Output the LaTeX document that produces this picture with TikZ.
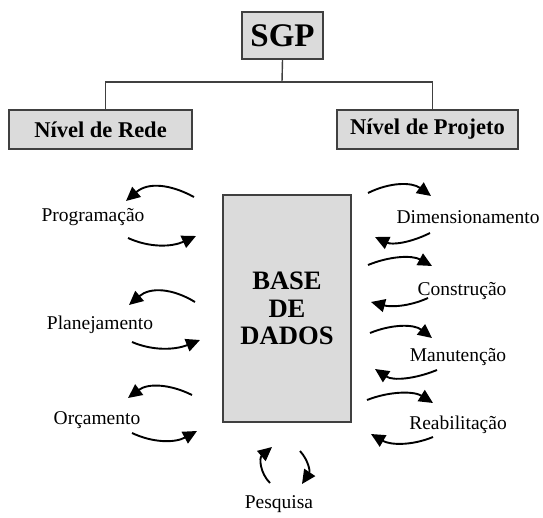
\documentclass[tikz,border=0pt]{standalone}
\usepackage{fontspec}
\setmainfont{Liberation Serif}
\usetikzlibrary{arrows.meta}
\begin{document}
\begin{tikzpicture}[x=1pt,y=-1pt,
  gbox/.style={draw=black!75,line width=1.3pt,fill=black!14,inner sep=0pt,anchor=center},
  lbl/.style={font=\fontsize{19.5}{22}\selectfont,inner sep=0pt,anchor=center},
  arr/.style={line width=1.9pt,-{Triangle[length=14pt,width=13pt]}},
  tree/.style={draw=black!75,line width=1.4pt}]
\useasboundingbox (0,0) rectangle (543,518);
% tree
\node[gbox,minimum width=81pt,minimum height=47pt,font=\fontsize{33}{34}\selectfont\bfseries] (sgp) at (282.5,35.5) {SGP};
\node[gbox,minimum width=183pt,minimum height=39pt,font=\fontsize{22.5}{24}\selectfont\bfseries] (rede) at (100.5,129.5) {Nível de Rede};
\node[gbox,minimum width=181pt,minimum height=39pt,font=\fontsize{22.5}{24}\selectfont\bfseries] (proj) at (427.5,129.5) {Nível de Projeto};
\coordinate (j) at (282,82);
\draw[tree] (sgp.south) -- (j);
\draw[tree] (j) -| ([xshift=5pt]rede.north);
\draw[tree] (j) -| ([xshift=5pt]proj.north);
% base
\node[gbox,minimum width=128pt,minimum height=227pt,align=center,font=\fontsize{26.6}{27.5}\selectfont\bfseries] (base) at (287,308.5) {BASE\\DE\\DADOS};
% labels
\node[lbl] (prog) at (93,217) {Programação};
\node[lbl] (plan) at (100,325) {Planejamento};
\node[lbl] (orc) at (97,420) {Orçamento};
\node[lbl] (dim) at (468,217) {Dimensionamento};
\node[lbl] (cons) at (462,291) {Construção};
\node[lbl] (man) at (458,357) {Manutenção};
\node[lbl] (reab) at (458,425) {Reabilitação};
\node[lbl] (pesq) at (279,504) {Pesquisa};
% left arrows
\draw[arr] (194,197) .. controls (170,184) and (148,182) .. (126,201);
\draw[arr] (128,238) .. controls (150,248) and (172,247) .. (196,236);
\draw[arr] (195,302) .. controls (172,288) and (150,287) .. (129,305);
\draw[arr] (132,342) .. controls (153,351) and (175,350) .. (200,340);
\draw[arr] (192,395) .. controls (170,384) and (148,383) .. (128,398);
\draw[arr] (132,433) .. controls (153,443) and (175,443) .. (197,431);
% right arrows
\draw[arr] (368,193) .. controls (390,182) and (412,182) .. (431,196);
\draw[arr] (430,233) .. controls (410,243) and (392,245) .. (375,237);
\draw[arr] (368,265) .. controls (390,256) and (412,255) .. (432,266);
\draw[arr] (428,298) .. controls (408,307) and (390,307) .. (371,302);
\draw[arr] (370,333) .. controls (392,324) and (414,324) .. (432,338);
\draw[arr] (437,370) .. controls (415,379) and (393,381) .. (375,369);
\draw[arr] (367,400) .. controls (390,391) and (414,391) .. (433,403);
\draw[arr] (433,437) .. controls (411,446) and (390,445) .. (371,434);
% pesquisa arrows
\draw[arr] (270,483) .. controls (260,473) and (259,458) .. (272,447);
\draw[arr] (300,451) .. controls (309,461) and (310,472) .. (302,484);
\end{tikzpicture}
\end{document}
